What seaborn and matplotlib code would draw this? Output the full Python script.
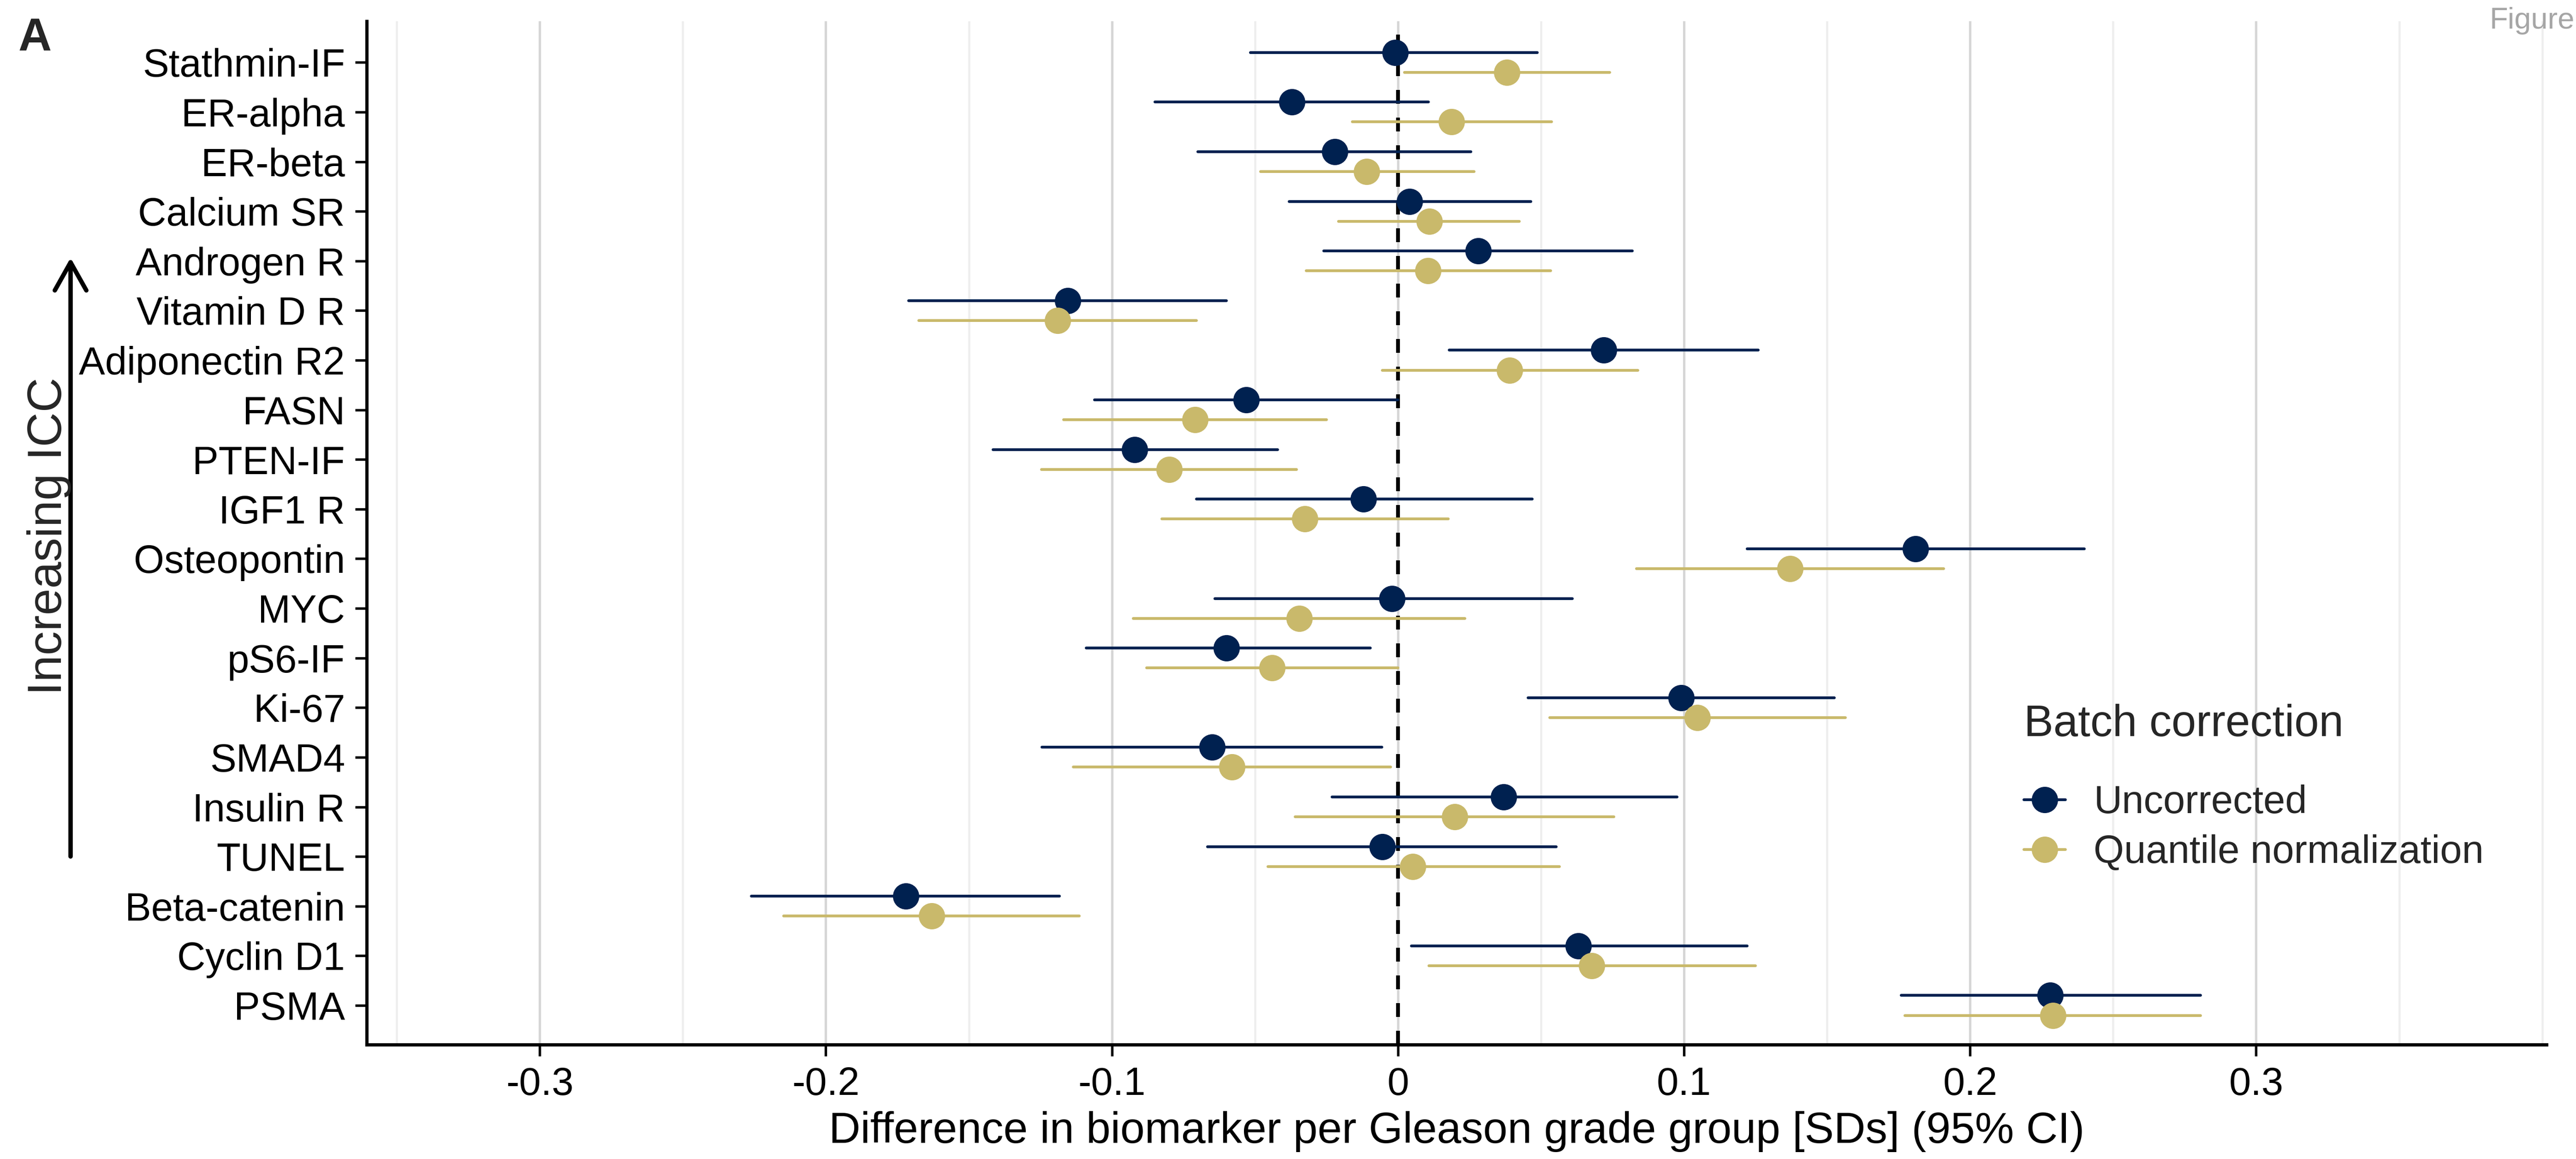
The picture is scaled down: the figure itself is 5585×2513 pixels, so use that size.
import matplotlib
matplotlib.use("Agg")
import matplotlib.pyplot as plt
from matplotlib.lines import Line2D
from matplotlib.patches import FancyArrowPatch
import numpy as np
import pandas as pd
import seaborn as sns

# ---------------- data ----------------
biomarkers = ["Stathmin-IF", "ER-alpha", "ER-beta", "Calcium SR", "Androgen R",
              "Vitamin D R", "Adiponectin R2", "FASN", "PTEN-IF", "IGF1 R",
              "Osteopontin", "MYC", "pS6-IF", "Ki-67", "SMAD4", "Insulin R",
              "TUNEL", "Beta-catenin", "Cyclin D1", "PSMA"]
methods = ["Uncorrected", "Quantile normalization"]

unc_est = [-0.001, -0.037, -0.022, 0.004, 0.028, -0.1155, 0.072, -0.053, -0.092, -0.012,
           0.181, -0.002, -0.060, 0.099, -0.065, 0.037, -0.0055, -0.172, 0.063, 0.228]
unc_lo = [-0.0515, -0.085, -0.070, -0.038, -0.026, -0.171, 0.018, -0.106, -0.1415, -0.0705,
          0.122, -0.064, -0.109, 0.0455, -0.1245, -0.023, -0.0665, -0.226, 0.0047, 0.176]
unc_hi = [0.0487, 0.0107, 0.0255, 0.0465, 0.082, -0.060, 0.126, 0.000, -0.042, 0.047,
          0.240, 0.061, -0.0097, 0.1525, -0.0056, 0.0975, 0.0554, -0.1184, 0.122, 0.2806]

qn_est = [0.038, 0.0187, -0.011, 0.011, 0.0105, -0.119, 0.039, -0.071, -0.080, -0.0325,
          0.137, -0.0345, -0.044, 0.1047, -0.058, 0.0198, 0.0052, -0.163, 0.0677, 0.229]
qn_lo = [0.0022, -0.016, -0.048, -0.0207, -0.032, -0.1675, -0.0054, -0.1168, -0.1246, -0.0826,
         0.0834, -0.0926, -0.0879, 0.053, -0.1135, -0.0359, -0.0455, -0.2147, 0.0108, 0.1772]
qn_hi = [0.074, 0.0537, 0.0266, 0.0425, 0.0534, -0.0705, 0.0838, -0.0249, -0.0354, 0.0176,
         0.1907, 0.0234, 0.000, 0.1564, -0.0025, 0.0755, 0.0565, -0.1114, 0.125, 0.2806]

xtick_vals = [-0.3, -0.2, -0.1, 0.0, 0.1, 0.2, 0.3]
xtick_labels = ["-0.3", "-0.2", "-0.1", "0", "0.1", "0.2", "0.3"]
minor_vals = [-0.35, -0.25, -0.15, -0.05, 0.05, 0.15, 0.25, 0.35, 0.4]

navy = "#002150"
gold = "#C9B96B"

# long table: lower bound, estimate, upper bound per biomarker & method
rows = []
for m, est, lo, hi in [(methods[0], unc_est, unc_lo, unc_hi),
                       (methods[1], qn_est, qn_lo, qn_hi)]:
    for b, e, l, h in zip(biomarkers, est, lo, hi):
        for v in (l, e, h):
            rows.append({"biomarker": b, "method": m, "value": v})
df = pd.DataFrame(rows)

# ---------------- style ----------------
sns.set_style("white")
plt.rcParams["font.family"] = ["Liberation Sans", "DejaVu Sans"]

W, H = 5585, 2513
DPI = 300
fig = plt.figure(figsize=(W / DPI, H / DPI), dpi=DPI)
ax = fig.add_axes([795 / W, 1 - 2265 / H, (5521 - 795) / W, (2265 - 46) / H])

sns.pointplot(data=df, x="value", y="biomarker", hue="method",
              order=biomarkers, hue_order=methods, palette=[navy, gold],
              estimator="median", errorbar=("pi", 100), dodge=0.4,
              linestyle="none", markers="o", markersize=13.7, markeredgewidth=0,
              err_kws={"linewidth": 1.45, "zorder": 1.5},
              orient="y", legend=False, ax=ax)

ax.axvline(0, color="black", lw=2.0, dashes=(3.6, 3.6), zorder=1.2)

ax.set_xlim(-0.3605, 0.4015)
ax.set_ylim(19.79, -0.83)

ax.set_xticks(xtick_vals)
ax.set_xticklabels(xtick_labels)
ax.set_xticks(minor_vals, minor=True)
ax.grid(False)
ax.grid(which="major", axis="x", color="#D6D6D6", lw=1.25)
ax.grid(which="minor", axis="x", color="#EEEEEE", lw=1.1)
ax.set_axisbelow(True)

for s in ["top", "right"]:
    ax.spines[s].set_visible(False)
for s in ["left", "bottom"]:
    ax.spines[s].set_color("black")
    ax.spines[s].set_linewidth(1.7)

ax.tick_params(axis="both", which="major", length=6, width=1.3, color="black",
               labelsize=20.4, labelcolor="black", pad=5.3, direction="out")
ax.tick_params(axis="x", which="minor", length=0)
ax.tick_params(left=True, bottom=True)

ax.set_ylabel("")
ax.set_xlabel("Difference in biomarker per Gleason grade group [SDs] (95% CI)",
              fontsize=22.8, labelpad=4, color="black")

# legend
handles = [Line2D([], [], color=c, marker="o", markersize=13.7, markeredgewidth=0, lw=1.45)
           for c in (navy, gold)]
leg = ax.legend(handles, methods, title="Batch correction", loc="upper left",
                bbox_to_anchor=(4388 / W, 1 - 1526 / H), bbox_transform=fig.transFigure,
                frameon=False, fontsize=20.4, title_fontsize=23, alignment="left",
                handlelength=1.06, handletextpad=0.72, labelspacing=0.33,
                borderpad=0, borderaxespad=0)
try:
    leg._legend_box.sep = 20.5
except Exception:
    pass

# annotations outside the panel
fig.text(40 / W, 1 - 110 / H, "A", fontsize=24, fontweight="bold", ha="left", va="baseline")
fig.text(5398 / W, 1 - 62 / H, "Figure", fontsize=15.6, color="#A6A6A6", ha="left", va="baseline")
fig.text(107 / W, 1 - 1163 / H, "Increasing ICC", fontsize=25, rotation=90,
         ha="center", va="center")
arrow = FancyArrowPatch((153 / W, 1 - 1857 / H), (153 / W, 1 - 559 / H),
                        transform=fig.transFigure,
                        arrowstyle="->,head_length=1.46,head_width=0.82",
                        mutation_scale=10, lw=2.3, color="black",
                        shrinkA=0, shrinkB=0)
fig.add_artist(arrow)

fig.savefig("out.png", dpi=DPI)
